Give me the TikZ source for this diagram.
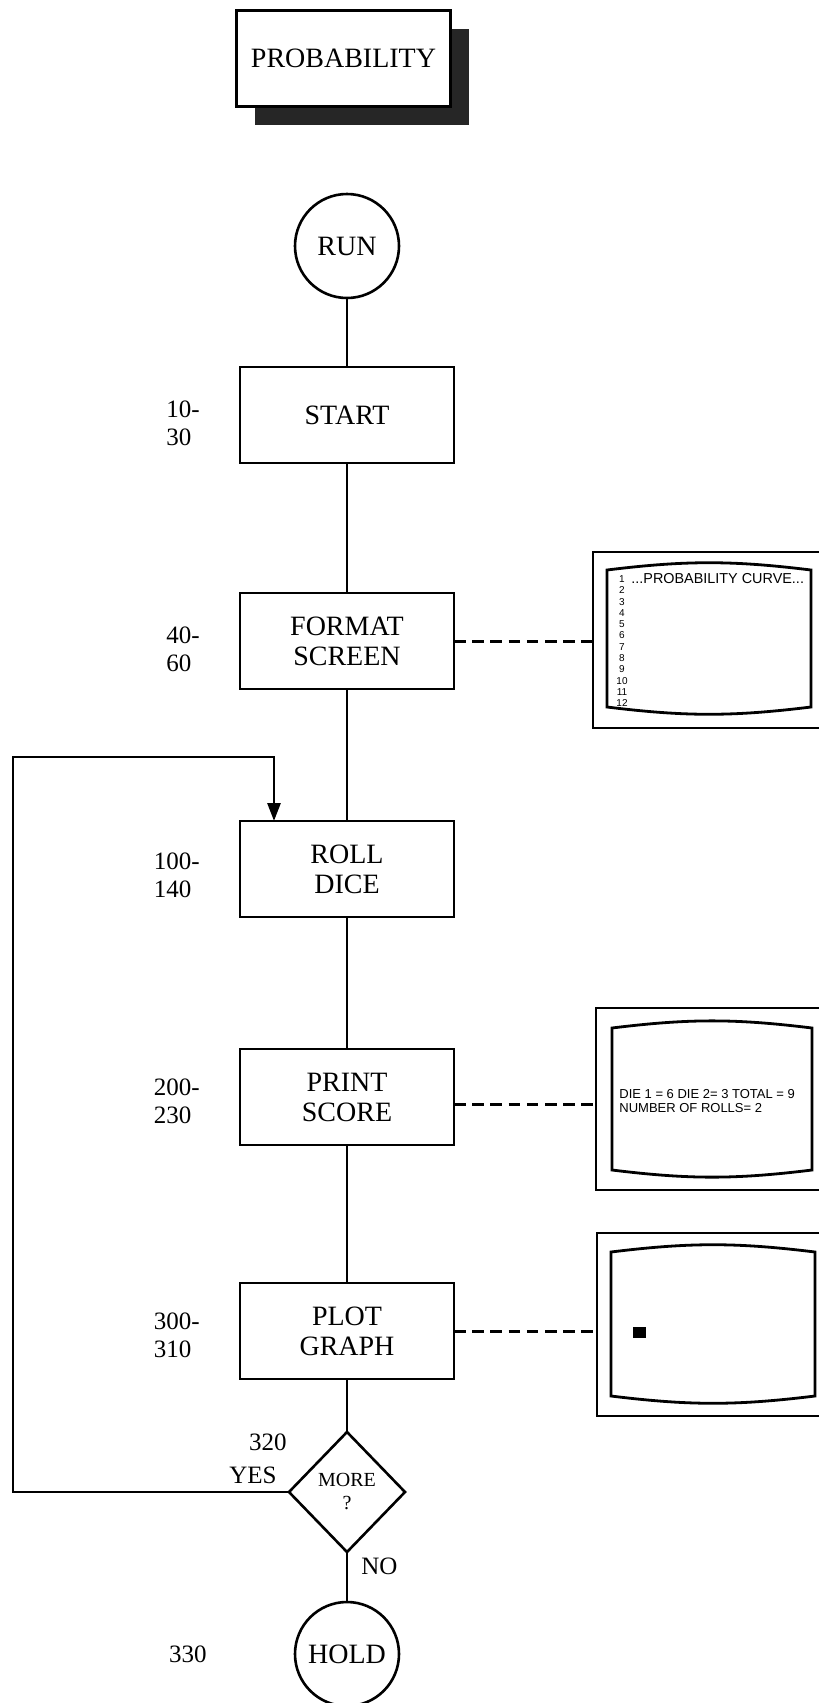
\documentclass[tikz,border=0pt]{standalone}
\usepackage{fontspec}
\setmainfont{Liberation Serif}
\newfontfamily\scrfont{Liberation Sans}
\usetikzlibrary{arrows.meta, positioning, shapes.geometric, backgrounds}
\tikzset{
  block/.style={rectangle, draw=black, line width=1.4pt, fill=white, outer sep=0pt,
    minimum width=107pt, minimum height=48pt, align=center, inner sep=0pt,
    font=\fontsize{14}{15}\selectfont},
  terminal/.style={circle, draw=black, line width=1.3pt, minimum size=52pt, outer sep=0pt,
    inner sep=0pt, font=\fontsize{14}{15}\selectfont},
  decision/.style={diamond, draw=black, line width=1.3pt, minimum width=58pt, outer sep=0pt,
    minimum height=60pt, inner sep=0pt, align=center, font=\fontsize{10}{11.5}\selectfont},
  lineno/.style={align=left, inner sep=0pt, font=\fontsize{12.5}{14}\selectfont},
  flowline/.style={line width=1.4pt},
  backline/.style={line width=1.4pt, -{Triangle[length=9pt, width=6.5pt]}},
  dashline/.style={line width=1.5pt, dash pattern=on 5.8pt off 3.3pt},
  screen/.style={rectangle, draw=black, line width=1pt, inner sep=0pt, outer sep=0pt},
  tubeline/.style={line width=1.4pt},
  scrtext/.style={inner sep=0pt, align=left, font=\scrfont\fontsize{6.5}{7}\selectfont},
  scrnum/.style={inner sep=0pt, font=\scrfont\fontsize{5}{6}\selectfont},
}
\newcommand{\tube}[4]{\draw[tubeline] (#1,#4) -- (#1,#3) to[bend left=7] (#2,#3) -- (#2,#4) to[bend left=7] cycle;}

\begin{document}
\begin{tikzpicture}[x=0.5pt, y=-0.5pt, node distance=65pt]
  \useasboundingbox (0,0) rectangle (819,1703);

  \node[block] (title) at (343.5,58.5) {PROBABILITY};
  \begin{scope}[on background layer]
    \fill[black!85] ([shift={(18,18)}]title.south west) rectangle ([shift={(18,18)}]title.north east);
  \end{scope}

  \node[terminal] (run) at (347,246) {RUN};
  \node[block, below=34.5pt of run] (start) {START};
  \node[block, below=of start] (format) {FORMAT\\SCREEN};
  \node[block, below=66pt of format] (roll) {ROLL\\DICE};
  \node[block, below=66pt of roll] (print) {PRINT\\SCORE};
  \node[block, below=69pt of print] (plot) {PLOT\\GRAPH};
  \node[decision, below=26.5pt of plot] (more) {MORE\\?};
  \node[terminal, below=25pt of more] (hold) {HOLD};

  % line numbers
  \node[lineno, left=20pt of start, yshift=-4pt] (l10) {10-\\30};
  \node[lineno, left=20pt of format, yshift=-4pt] (l40) {40-\\60};
  \node[lineno, left=20pt of roll, yshift=-3pt] (l100) {100-\\140};
  \node[lineno, left=20pt of print, yshift=-2pt] (l200) {200-\\230};
  \node[lineno, left=20pt of plot, yshift=-2pt] (l300) {300-\\310};
  \node[lineno, anchor=east] (l320) at ([xshift=-1pt, yshift=25pt]more.west) {320};
  \node[lineno, left=44pt of hold] (l330) {330};
  \node[lineno, anchor=east] (yes) at ([xshift=-6pt, yshift=8.5pt]more.west) {YES};
  \node[lineno, anchor=west] (no) at ([xshift=7pt, yshift=-7pt]more.south) {NO};

  \draw[flowline] (run) -- (start);
  \draw[flowline] (start) -- (format);
  \draw[flowline] (format) -- (roll);
  \draw[flowline] (roll) -- (print);
  \draw[flowline] (print) -- (plot);
  \draw[flowline] (plot) -- (more);
  \draw[flowline] (more) -- (hold);

  \coordinate (loopcorner) at (13,757);
  \draw[backline] (more.west) -| (loopcorner) -| ([xshift=-36.5pt]roll.north);

  % screens
  \node[screen, minimum width=115.5pt, minimum height=88pt] (scrA) at (708.5,640) {};
  \node[screen, minimum width=114pt, minimum height=91pt] (scrB) at (710,1099) {};
  \node[screen, minimum width=113.5pt, minimum height=91.5pt] (scrC) at (710.5,1324.5) {};
  \tube{607}{811}{570}{707}
  \tube{612}{812}{1028}{1170}
  \tube{611}{815}{1252}{1396}

  \foreach \n in {1,...,12}
    \node[scrnum] (row\n) at (622, {579+(\n-1)*11.3}) {\n};
  \node[scrtext, anchor=west, font=\scrfont\fontsize{7.2}{8}\selectfont] (curve) at (631,579) {...PROBABILITY CURVE...};
  \node[scrtext, anchor=west] (score) at (619,1101) {DIE 1 = 6 DIE 2= 3 TOTAL = 9\\NUMBER OF ROLLS= 2};
  \fill (633,1327) rectangle (646,1338);

  \draw[dashline] (format.east) -- (format.east -| scrA.west);
  \draw[dashline] ([yshift=-3.5pt]print.east) -- ([yshift=-3.5pt]print.east -| scrB.west);
  \draw[dashline] (plot.east) -- (plot.east -| scrC.west);
\end{tikzpicture}
\end{document}
